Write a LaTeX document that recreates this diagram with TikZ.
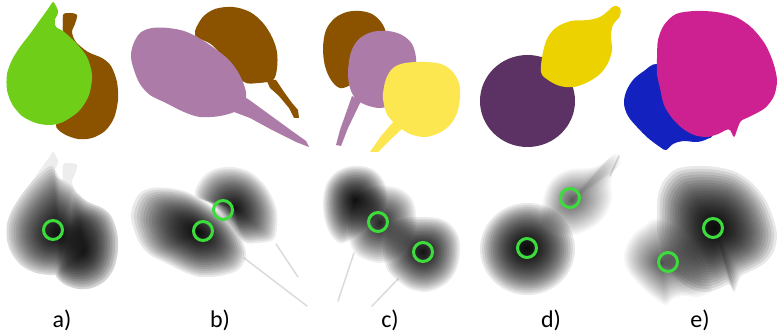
\documentclass[tikz,border=0pt]{standalone}
\usepackage{fontspec}
\setmainfont{Carlito}
\begin{document}
\definecolor{leafgreen}{RGB}{110,206,24}
\definecolor{bark}{RGB}{139,83,0}
\definecolor{mauve}{RGB}{173,123,168}
\definecolor{lemon}{RGB}{253,231,80}
\definecolor{plum}{RGB}{91,50,99}
\definecolor{gold}{RGB}{236,210,0}
\definecolor{royal}{RGB}{19,33,190}
\definecolor{rosered}{RGB}{205,33,146}
\definecolor{ringgreen}{RGB}{60,220,60}
% outlines of the segments (pixel units, y downwards)
\def\pGreenA{plot[smooth cycle,tension=0.5] coordinates {(53,2) (56,6) (58,11) (57,16) (55,19) (55,25) (57,28) (63,31) (76,43) (87,57) (92,75) (89,95) (79,111) (63,122) (50,125) (36,123) (22,116) (12,104) (7,90) (7,74) (12,60) (20,47) (30,34) (40,20) (48,9)}}
\def\pBrownA{plot[smooth cycle,tension=0.5] coordinates {(63,31) (63,15) (70,13) (77,15) (75,24) (72,32) (76,42) (88,52) (102,58) (111,66) (117,82) (118,100) (114,118) (105,131) (92,138) (78,139) (64,134) (56,125) (70,110) (80,80) (70,50)}}
% outer outline of both pieces of a) without the thin tips
\def\pBodyA{plot[smooth cycle,tension=0.55] coordinates {(42,22) (52,16) (60,28) (72,36) (78,44) (88,52) (102,58) (111,66) (117,82) (118,100) (114,118) (105,131) (92,138) (78,139) (64,134) (56,126) (50,125) (36,123) (22,116) (12,104) (7,90) (7,74) (12,60) (20,47) (30,34)}}
\def\pBrownAbody{plot[smooth cycle,tension=0.55] coordinates {(74,44) (88,52) (102,58) (111,66) (117,82) (118,100) (114,118) (105,131) (92,138) (78,139) (64,134) (56,125) (62,110) (70,80)}}
\def\pBrownB{plot[smooth cycle,tension=0.55] coordinates {(195,35) (202,18) (215,9) (233,7) (250,12) (263,23) (272,37) (277,52) (277,68) (273,80) (258,83) (244,82) (230,65) (212,45)}}
\def\pBrownBstem{(266,79) -- (276,80) -- (284,92) -- (292,103) -- (298,110) -- (299,118) -- (294,118) -- (289,108) -- (279,96) -- (270,88) -- cycle}
\def\pPinkB{plot[smooth cycle,tension=0.55] coordinates {(133,45) (140,33) (152,28) (168,28) (184,31) (199,38) (214,48) (228,59) (238,72) (244,85) (246,97) (238,110) (220,116) (200,117) (184,112) (166,103) (150,95) (140,84) (134,70) (131,57)}}
\def\pPinkBstem{(236,93) -- (248,99) -- (270,115) -- (292,131) -- (306,141) -- (309,147) -- (296,142) -- (272,130) -- (250,118) -- (234,112) -- cycle}
\def\pBrownC{plot[smooth cycle,tension=0.55] coordinates {(323,48) (326,30) (335,18) (347,12) (360,11) (372,14) (381,22) (386,33) (386,50) (372,68) (352,84) (340,88) (331,80) (325,66)}}
\def\pPinkC{plot[smooth cycle,tension=0.55] coordinates {(348,72) (351,52) (359,39) (372,32) (388,31) (402,35) (412,44) (416,58) (415,75) (405,95) (394,104) (380,108) (366,105) (356,99) (350,88)}}
\def\pPinkCstem{(352,96) -- (361,101) -- (348,128) -- (341,146) -- (336,145) -- (340,130) -- cycle}
\def\pYellowC{plot[smooth cycle,tension=0.55] coordinates {(383,94) (386,79) (393,68) (405,63) (425,62) (441,64) (452,71) (459,83) (460,98) (457,113) (450,125) (439,133) (425,137) (410,134) (398,126) (388,116) (384,105)}}
\def\pYellowCstem{(394,121) -- (403,128) -- (390,140) -- (378,152) -- (370,152) -- (381,136) -- cycle}
\def\pPlumD{(527.5,101) ellipse (47.5 and 46)}
\def\pGoldD{plot[smooth cycle,tension=0.55] coordinates {(541,72) (543,52) (548,37) (557,27) (571,21) (588,20) (600,17) (608,11) (614,6) (620,8) (620,16) (613,25) (611,36) (612,50) (608,63) (600,74) (588,82) (574,87) (560,86) (548,80)}}
\def\pBlueE{plot[smooth cycle,tension=0.55] coordinates {(657,64) (644,71) (633,80) (626,92) (624,104) (628,116) (637,127) (648,138) (660,147) (666,150) (673,144) (683,141) (697,142) (707,139) (712,133) (700,100) (680,75)}}
\def\pRoseE{plot[smooth cycle,tension=0.5] coordinates {(657,58) (658,40) (664,25) (676,14) (695,11) (716,12) (736,17) (752,28) (765,44) (773,62) (777,80) (774,96) (765,108) (751,116) (741,121) (737,130) (734,137) (730,130) (726,130) (718,134) (707,137) (694,135) (682,128) (672,118) (664,105) (660,88) (657,74)}}
% distance-map look: nested shrinking copies of a segment,
% packed more densely towards the centre
\newcommand\distlobe[4]{%
  \foreach \k in {0,...,29}{%
    \pgfmathsetmacro\sc{(1-\k/30)^1.4}%
    \fill[black,fill opacity=#4,scale around={\sc:(#1,#2)}] #3;}}
\tikzset{
  ring/.style={draw=ringgreen,line width=3pt},
  trace/.style={draw=black!14,line width=1.5pt,line cap=round},
  lbl/.style={font=\fontsize{24}{28}\selectfont,anchor=base,inner sep=0pt}
}
\begin{tikzpicture}[x=1pt,y=-1pt]
\useasboundingbox (0,0) rectangle (778,336);
\fill[white] (0,0) rectangle (778,336);

% ---- top row: coloured segments ----
\fill[bark] \pBrownA;
\fill[leafgreen] \pGreenA;
% gap between the leaf tip and the stalk
\fill[white,rounded corners=1.5pt] (57.5,15) -- (62.6,14.5) -- (62.6,28.5) -- (57.5,28) -- (55.6,24.5) -- (55.6,18.5) -- cycle;

\fill[bark] \pBrownB;
\fill[bark] \pBrownBstem;
\fill[mauve] \pPinkB;
\fill[mauve] \pPinkBstem;

\fill[bark] \pBrownC;
\fill[mauve] \pPinkC;
\fill[mauve] \pPinkCstem;
\fill[lemon] \pYellowC;
\fill[lemon] \pYellowCstem;

\fill[plum] \pPlumD;
\fill[gold] \pGoldD;

\fill[royal] \pBlueE;
\fill[rosered] \pRoseE;

% ---- bottom row: distance maps with detected centres ----
\begin{scope}[shift={(0,150)}]
  \fill[black,fill opacity=0.07] \pGreenA \pBrownA;
  \fill[white] (57.5,15) -- (62.6,14.5) -- (62.6,28.5) -- (57.5,28) -- (55.6,24.5) -- (55.6,18.5) -- cycle;
  \distlobe{58}{84}{\pBodyA}{0.08}
  \distlobe{84}{102}{\pBrownAbody}{0.03}
\end{scope}
\draw[ring] (53,230) circle (9.5);

\begin{scope}[shift={(0,160)}]
  \draw[trace] (276,84) -- (298,117);
  \draw[trace] (244,98) -- (307,146);
  \distlobe{198}{72}{\pPinkB}{0.085}
  \distlobe{235}{48}{\pBrownB}{0.075}
\end{scope}
\draw[ring] (203,231) circle (9.5);
\draw[ring] (223,210) circle (9.5);

\begin{scope}[shift={(0,155)}]
  \draw[trace] (354,98) -- (338,146);
  \draw[trace] (398,124) -- (372,151);
  \distlobe{355}{45}{\pBrownC}{0.08}
  \distlobe{380}{68}{\pPinkC}{0.06}
  \distlobe{423}{97}{\pYellowC}{0.075}
\end{scope}
\draw[ring] (378,222) circle (9.5);
\draw[ring] (423,252) circle (9.5);

\begin{scope}[shift={(0,148)}]
  \draw[trace] (610,28) -- (619,8);
  \distlobe{527}{100}{\pPlumD}{0.09}
  \distlobe{572}{52}{\pGoldD}{0.03}
\end{scope}
\draw[ring] (527,248) circle (9.5);
\draw[ring] (570,198) circle (9.5);

\begin{scope}[shift={(0,155)}]
  \distlobe{662}{108}{\pBlueE}{0.035}
  \distlobe{715}{73}{\pRoseE}{0.09}
\end{scope}
\draw[ring] (713,228) circle (9.5);
\draw[ring] (668,262) circle (9.5);

% ---- captions ----
\node[lbl] (capa) at (62,327) {a)};
\node[lbl] (capb) at (220,327) {b)};
\node[lbl] (capc) at (390,327) {c)};
\node[lbl] (capd) at (551,327) {d)};
\node[lbl] (cape) at (700,327) {e)};
\end{tikzpicture}
\end{document}
